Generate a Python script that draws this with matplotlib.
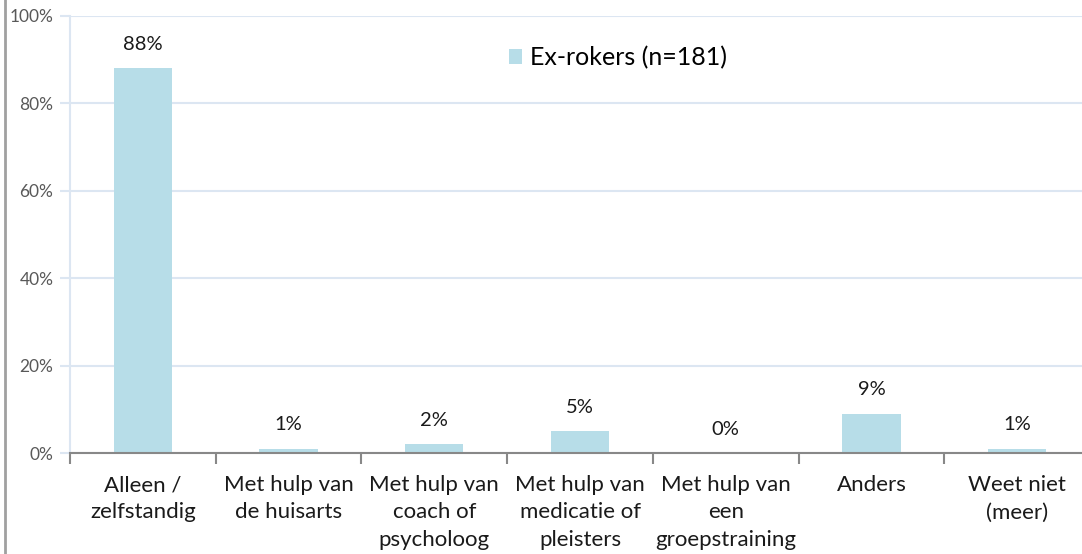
import numpy as np
import matplotlib
matplotlib.use('Agg')
import matplotlib.pyplot as plt
from matplotlib.lines import Line2D

# ====== 数据 ======
categories = ['Alleen /\nzelfstandig', 'Met hulp van\nde huisarts', 'Met hulp van\ncoach of\npsycholoog',
              'Met hulp van\nmedicatie of\npleisters', 'Met hulp van\neen\ngroepstraining',
              'Anders', 'Weet niet\n(meer)']
values = [88, 1, 2, 5, 0, 9, 1]
series_name = 'Ex-rokers (n=181)'

bar_color = '#B7DDE8'
grid_color = '#DCE6F2'
plt.rcParams['font.family'] = ['Lato', 'DejaVu Sans']

W, H = 1082, 554
fig = plt.figure(figsize=(W/100, H/100), dpi=100)
ax = fig.add_axes([70/W, (H-453)/H, 1020/W, 437/H])

x = np.arange(len(categories))
ax.bar(x, values, width=0.4, color=bar_color, label=series_name, zorder=3)
for xi, v in zip(x, values):
    ax.annotate(f'{v}%', (xi, v), xytext=(0, 11), textcoords='offset points',
                ha='center', va='bottom', fontsize=14.5, color='#1a1a1a')

ax.set_xlim(-0.5, len(categories) - 0.5)
ax.set_ylim(0, 100)
ax.set_yticks(range(0, 101, 20))
ax.set_yticklabels([f'{t}%' for t in range(0, 101, 20)], fontsize=12.5, color='#595959')
ax.yaxis.grid(True, color=grid_color, linewidth=1.5, zorder=0)
ax.tick_params(axis='y', length=7, color=grid_color, width=1.5, pad=5)

ax.set_xticks(np.arange(len(categories) + 1) - 0.5, minor=True)
ax.set_xticks(x)
ax.set_xticklabels(categories, fontsize=16, color='#1a1a1a', linespacing=1.45)
ax.tick_params(axis='x', which='major', length=0, pad=16)
ax.tick_params(axis='x', which='minor', length=8, color='#888888', width=1.5)

for s in ['top', 'right']:
    ax.spines[s].set_visible(False)
ax.spines['left'].set_color(grid_color)
ax.spines['left'].set_linewidth(1.5)
ax.spines['bottom'].set_color('#888888')
ax.spines['bottom'].set_linewidth(1.5)
ax.spines['bottom'].set_zorder(4)

ax.legend(loc='center left', bbox_to_anchor=(0.408, 0.905), frameon=False, fontsize=18,
          handlelength=0.55, handleheight=0.55, handletextpad=0.3)

# 左侧灰色边框
fig.add_artist(Line2D([5/W, 5/W], [0, 1], color='#A0A0A0', linewidth=2))

plt.savefig('out.png', dpi=100)
plt.close()
